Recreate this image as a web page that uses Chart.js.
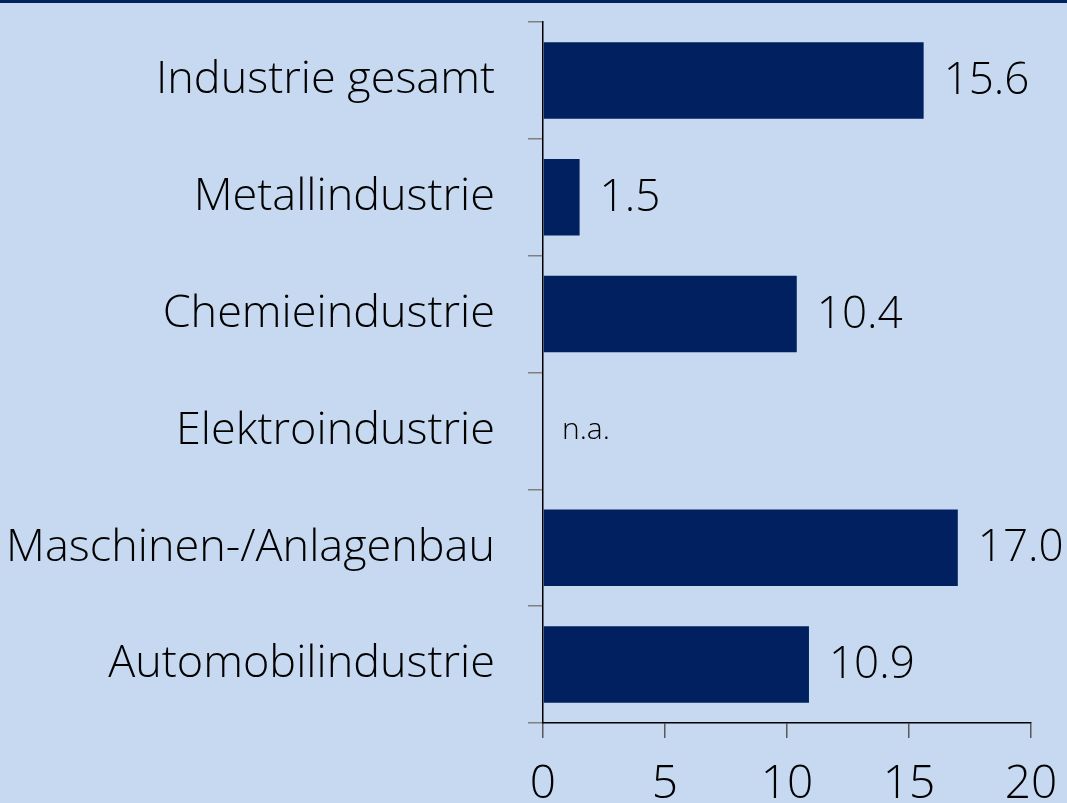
<!DOCTYPE html>
<html lang="de">
<head>
  <meta charset="UTF-8" />
  <title>Industrie</title>
  <script src="https://cdn.jsdelivr.net/npm/chart.js"></script>
  <style>
    html, body {
      margin: 0;
      padding: 0;
      background: #c6d9f0;
      overflow: hidden;
    }
    .frame {
      width: 1067px;
      height: 800px;
      border-top: 3px solid #002060;
      position: relative;
    }
  </style>
</head>
<body>
  <div class="frame">
    <canvas id="barChart"></canvas>
  </div>

  <script>
    const categories = ['Industrie gesamt', 'Metallindustrie', 'Chemieindustrie', 'Elektroindustrie', 'Maschinen-/Anlagenbau', 'Automobilindustrie'];
    const values = [15.6, 1.5, 10.4, null, 17.0, 10.9];
    const xTicks = [0, 5, 10, 15, 20];
    const missingLabel = 'n.a.';

    const FONT = "'Open Sans', sans-serif";

    // value labels at the end of each bar
    const valueLabels = {
      id: 'valueLabels',
      afterDatasetsDraw(chart) {
        const ctx = chart.ctx;
        const meta = chart.getDatasetMeta(0);
        const xScale = chart.scales.x;
        ctx.save();
        ctx.fillStyle = '#000';
        ctx.textBaseline = 'middle';
        ctx.textAlign = 'left';
        meta.data.forEach((bar, i) => {
          const v = values[i];
          if (v === null) {
            ctx.font = '300 30px ' + FONT;
            ctx.fillText(missingLabel, xScale.getPixelForValue(0) + 19, bar.y);
          } else {
            ctx.font = '300 44px ' + FONT;
            ctx.fillText(v.toFixed(1), bar.x + 20, bar.y + 1);
          }
        });
        ctx.restore();
      }
    };

    new Chart(document.getElementById('barChart').getContext('2d'), {
      type: 'bar',
      data: {
        labels: categories,
        datasets: [{
          data: values,
          backgroundColor: '#002060',
          borderWidth: 0,
          barPercentage: 0.655,
          categoryPercentage: 1
        }]
      },
      options: {
        indexAxis: 'y',
        responsive: true,
        maintainAspectRatio: false,
        animation: false,
        layout: { padding: { top: 19, right: 36, left: 0, bottom: 0 } },
        plugins: {
          legend: { display: false },
          tooltip: { enabled: false }
        },
        scales: {
          x: {
            min: 0,
            max: 20,
            afterBuildTicks: (scale) => { scale.ticks = xTicks.map(v => ({ value: v })); },
            afterFit: (scale) => { scale.height = 80; scale.paddingLeft = 0; scale.paddingRight = 0; },
            grid: { drawOnChartArea: false, drawTicks: true, tickLength: 15, color: '#595959', lineWidth: 1.5 },
            border: { display: true, color: '#000', width: 1.5 },
            ticks: { color: '#000', font: { family: FONT, size: 46, weight: 300 }, padding: 19, maxRotation: 0 }
          },
          y: {
            afterFit: (scale) => { scale.width = 543; scale.paddingTop = 0; scale.paddingBottom = 0; },
            grid: { drawOnChartArea: false, drawTicks: true, tickLength: 15, color: '#808080', lineWidth: 1.5, offset: true },
            border: { display: true, color: '#000', width: 1.5 },
            ticks: { color: '#000', font: { family: FONT, size: 45, weight: 300 }, padding: 33 }
          }
        }
      },
      plugins: [valueLabels]
    });
  </script>
</body>
</html>
